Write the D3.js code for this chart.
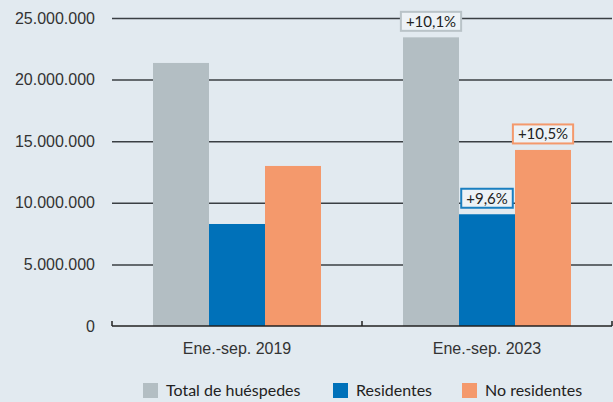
<!DOCTYPE html>
<html>
<head>
<meta charset="utf-8">
<script src="https://cdn.jsdelivr.net/npm/d3@7"></script>
<style>
  html, body { margin: 0; padding: 0; background: #e2eaf0; }
  svg { display: block; font-family: Lato, "Noto Sans", sans-serif; }
</style>
</head>
<body>
<script>
// data
var periods = ["Ene.-sep. 2019", "Ene.-sep. 2023"];
var series = ["Total de huéspedes", "Residentes", "No residentes"];
var colors = ["#b3bec3", "#0071b9", "#f4996c"];
var borderColors = ["#b9c3c8", "#1a7fc0", "#f4996c"];
var totalValues = [21350000, 23430000];
var residentValues = [8280000, 9070000];
var nonResidentValues = [12990000, 14290000];
var changeLabels = ["+10,1%", "+9,6%", "+10,5%"];
var yTicks = [0, 5000000, 10000000, 15000000, 20000000, 25000000];

var width = 613,
    height = 402,
    plotLeft = 112,
    plotRight = 612,
    plotTop = 18,
    plotBottom = 326;

var rows = periods.map(function(p, i) {
  return { period: p, values: [totalValues[i], residentValues[i], nonResidentValues[i]] };
});

var fmt = d3.formatLocale({ decimal: ",", thousands: ".", grouping: [3], currency: ["", ""] }).format(",.0f");

var svg = d3.select("body").append("svg")
    .attr("width", width)
    .attr("height", height);

var x0 = d3.scaleBand()
    .domain(periods)
    .range([plotLeft, plotRight])
    .paddingInner(0.328)
    .paddingOuter(0.164);

var x1 = d3.scaleBand()
    .domain(d3.range(series.length))
    .range([0, x0.bandwidth()]);

var y = d3.scaleLinear()
    .domain([0, 25000000])
    .range([plotBottom, plotTop]);

// gridlines + y labels
var yAxis = d3.axisLeft(y)
    .tickValues(yTicks)
    .tickSize(-(plotRight - plotLeft))
    .tickPadding(17)
    .tickFormat(fmt);

var gy = svg.append("g")
    .attr("transform", "translate(" + plotLeft + ",0)")
    .call(yAxis);
gy.select(".domain").remove();
gy.selectAll(".tick line")
    .attr("stroke", "#3a3f43")
    .attr("stroke-width", 1.5)
    .filter(function(d) { return d === 0; }).remove();
gy.selectAll(".tick text")
    .style("font-size", "16px")
    .attr("fill", "#333");

// bars
var groups = svg.selectAll(".group")
    .data(rows)
  .enter().append("g")
    .attr("class", "group")
    .attr("transform", function(d) { return "translate(" + x0(d.period) + ",0)"; });

groups.selectAll("rect")
    .data(function(d) { return d.values.map(function(v, i) { return { i: i, v: v }; }); })
  .enter().append("rect")
    .attr("x", function(d) { return x1(d.i); })
    .attr("y", function(d) { return y(d.v); })
    .attr("width", x1.bandwidth())
    .attr("height", function(d) { return plotBottom - y(d.v); })
    .attr("fill", function(d) { return colors[d.i]; });

// baseline with ticks at the category boundaries
var step = x0.step();
var bounds = d3.range(periods.length + 1).map(function(i) { return plotLeft + i * step; });
svg.append("line")
    .attr("x1", plotLeft).attr("x2", plotRight)
    .attr("y1", plotBottom).attr("y2", plotBottom)
    .attr("stroke", "#222").attr("stroke-width", 1.5);
svg.selectAll(".btick")
    .data(bounds)
  .enter().append("line")
    .attr("class", "btick")
    .attr("x1", function(d) { return d; })
    .attr("x2", function(d) { return d; })
    .attr("y1", plotBottom - 5)
    .attr("y2", plotBottom)
    .attr("stroke", "#222").attr("stroke-width", 1.5);

// category labels
var gx = svg.append("g")
    .attr("transform", "translate(0," + plotBottom + ")")
    .call(d3.axisBottom(x0).tickSize(0).tickPadding(17));
gx.select(".domain").remove();
gx.selectAll(".tick text")
    .style("font-size", "16px")
    .attr("fill", "#333");

// change labels over the 2023 bars
var last = rows[rows.length - 1];
var lab = svg.selectAll(".chg")
    .data(last.values.map(function(v, i) { return { i: i, v: v, t: changeLabels[i] }; }))
  .enter().append("g")
    .attr("class", "chg")
    .attr("transform", function(d) {
      return "translate(" + (x0(last.period) + x1(d.i) + x1.bandwidth() / 2) + "," + (y(d.v) - 16) + ")";
    });

lab.append("rect")
    .attr("fill", "#edf2f6")
    .attr("stroke", function(d) { return borderColors[d.i]; })
    .attr("stroke-width", 2);

lab.append("text")
    .attr("text-anchor", "middle")
    .attr("dy", "0.35em")
    .style("font-size", "15px")
    .attr("fill", "#222")
    .text(function(d) { return d.t; });

lab.each(function() {
  var g = d3.select(this);
  var b = g.select("text").node().getBBox();
  g.select("rect")
    .attr("x", b.x - 5)
    .attr("y", -9.5)
    .attr("width", b.width + 10)
    .attr("height", 19);
});

// legend
var legendX = [143, 333, 462];
var legend = svg.selectAll(".legend")
    .data(series)
  .enter().append("g")
    .attr("class", "legend")
    .attr("transform", function(d, i) { return "translate(" + legendX[i] + ",383)"; });

legend.append("rect")
    .attr("width", 15)
    .attr("height", 15)
    .attr("fill", function(d, i) { return colors[i]; });

legend.append("text")
    .attr("x", 23)
    .attr("y", 13)
    .style("font-size", "16px")
    .attr("fill", "#222")
    .text(function(d) { return d; });
</script>
</body>
</html>
